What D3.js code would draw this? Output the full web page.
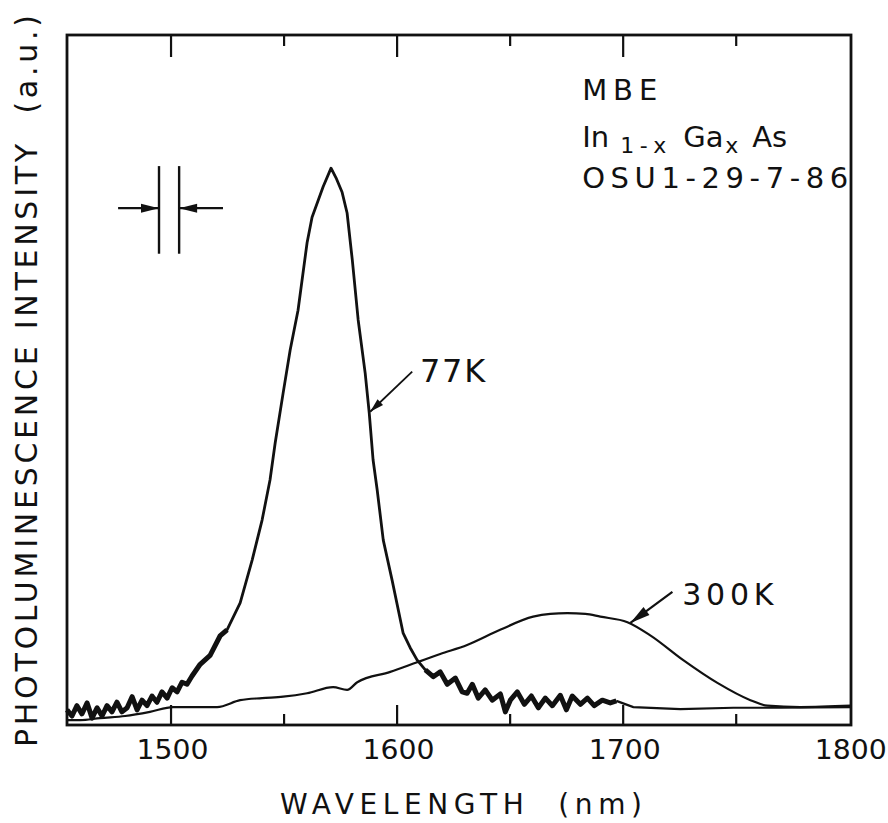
<!DOCTYPE html>
<html>
<head>
<meta charset="utf-8">
<script src="https://cdn.jsdelivr.net/npm/d3@7"></script>
<style>
  html, body { margin: 0; padding: 0; background: #fff; }
  svg { display: block; }
  text { font-family: "DejaVu Sans", "Liberation Sans", sans-serif; fill: #111; white-space: pre; }
</style>
</head>
<body>
<svg id="chart" width="888" height="823"></svg>
<script>
// ---------------- data ----------------
// 77 K spectrum (wavelength nm, intensity a.u.)
const wl77 = [1454.2,1456.4,1458.6,1460.8,1463.1,1465.3,1467.5,1469.7,1471.9,1474.1,1476.3,1478.5,1480.8,1483.0,1485.2,1487.4,1489.6,1491.8,1494.0,1496.2,1498.5,1500.7,1502.9,1505.1,1507.3,1509.5,1513.1,1517.5,1521.9,1525.0,1530.8,1536.1,1540.5,1544.0,1546.3,1549.8,1552.9,1556.4,1560.4,1562.6,1567.5,1571.0,1573.2,1575.9,1578.1,1580.4,1583.0,1586.1,1587.9,1589.6,1591.4,1594.1,1598.0,1602.9,1606.0,1609.1,1612.7,1616.2,1619.3,1622.4,1626.0,1629.0,1631.2,1633.5,1636.1,1639.2,1642.3,1645.9,1648.1,1650.3,1653.4,1656.5,1659.6,1662.7,1665.8,1668.9,1672.4,1675.1,1677.7,1681.3,1684.4,1687.4,1691.0,1694.5,1697.2,1704.7,1725.5,1749.0,1769.8,1801.0];
const int77 = [2.2,1.3,2.8,1.6,3.2,1.0,2.5,1.3,2.8,1.9,3.3,1.9,2.5,4.1,2.2,3.6,2.8,4.2,3.3,4.8,3.9,5.4,4.8,6.2,5.9,7.1,8.8,10.1,12.9,13.8,17.7,23.9,29.7,35.5,40.9,48.1,54.3,60.1,69.9,73.6,78.0,80.7,79.3,77.2,74.2,67.4,58.7,51.0,45.2,38.4,34.1,26.8,21.0,13.3,11.2,9.4,8.0,7.0,7.7,5.9,6.8,4.8,4.6,5.9,3.9,5.1,3.6,4.5,1.9,3.6,4.8,3.0,4.2,2.5,3.9,2.8,4.3,2.2,4.2,3.0,3.9,2.8,3.6,3.2,3.5,2.6,2.3,2.5,2.5,2.6];
// 300 K spectrum
const wl300 = [1454.2,1460.0,1468.8,1479.9,1490.9,1501.1,1510.9,1520.6,1530.8,1540.5,1549.8,1560.4,1571.9,1578.1,1582.6,1597.2,1609.1,1619.3,1631.2,1645.8,1660.4,1668.0,1675.5,1683.5,1690.1,1702.1,1712.2,1726.8,1741.9,1756.5,1764.0,1778.6,1801.0];
const int300 = [0.7,0.7,1.0,1.3,1.9,2.6,2.6,2.6,3.6,3.9,4.1,4.6,5.5,5.1,6.2,7.7,9.1,10.3,11.6,13.8,15.7,16.1,16.2,16.1,15.7,14.9,13.0,9.4,6.1,3.6,2.8,2.6,2.8];
// axis ticks
const majorTicks = [1500, 1600, 1700, 1800];
const minorTicks = [1550, 1650, 1750];
const tickLabels = ["1500", "1600", "1700", "1800"];

// ---------------- layout ----------------
const svg = d3.select("#chart");
const L = 67, R = 851, T = 35, B = 725;
const x = d3.scaleLinear().domain([1454.2, 1801]).range([L, R]);
const y = d3.scaleLinear().domain([0, 100]).range([B, T]);

const smooth = d3.line().x(d => x(d[0])).y(d => y(d[1])).curve(d3.curveMonotoneX);
const line = d3.line().x(d => x(d[0])).y(d => y(d[1])).curve(d3.curveLinear);
const d77 = wl77.map((w, i) => [w, int77[i]]);
const d300 = wl300.map((w, i) => [w, int300[i]]);

// 300K curve
svg.append("path").datum(d300).attr("d", smooth)
  .attr("fill", "none").attr("stroke", "#111").attr("stroke-width", 2.2)
  .attr("stroke-linejoin", "round");

// 77K curve (thin tail beyond measured region, thicker main trace)
svg.append("path").datum(d77.filter(d => d[0] >= 1697)).attr("d", line)
  .attr("fill", "none").attr("stroke", "#111").attr("stroke-width", 2.2);
svg.append("path").datum(d77.filter(d => d[0] <= 1697.2)).attr("d", line)
  .attr("fill", "none").attr("stroke", "#111").attr("stroke-width", 2.8)
  .attr("stroke-linejoin", "round");
// dense noise regions drawn heavier
svg.append("path").datum(d77.filter(d => d[0] <= 1530)).attr("d", line)
  .attr("fill", "none").attr("stroke", "#111").attr("stroke-width", 5)
  .attr("stroke-linejoin", "round");
svg.append("path").datum(d77.filter(d => d[0] >= 1612 && d[0] <= 1697.2)).attr("d", line)
  .attr("fill", "none").attr("stroke", "#111").attr("stroke-width", 5)
  .attr("stroke-linejoin", "round");

// frame
svg.append("rect").attr("x", L).attr("y", T).attr("width", R - L).attr("height", B - T)
  .attr("fill", "none").attr("stroke", "#111").attr("stroke-width", 2.8);

// ticks (bottom and top, inward)
const axB = d3.axisBottom(x).tickValues(majorTicks.filter(t => t < 1800)).tickSize(-20).tickFormat("");
const axBm = d3.axisBottom(x).tickValues(minorTicks).tickSize(-11).tickFormat("");
const axT = d3.axisTop(x).tickValues(majorTicks.filter(t => t < 1800)).tickSize(-22).tickFormat("");
const axTm = d3.axisTop(x).tickValues(minorTicks).tickSize(-11).tickFormat("");
[[axB, B], [axBm, B], [axT, T], [axTm, T]].forEach(([ax, yy]) => {
  const g = svg.append("g").attr("transform", `translate(0,${yy})`).call(ax);
  g.select(".domain").remove();
  g.selectAll("line").attr("stroke", "#111").attr("stroke-width", 2.2);
});

// tick labels
svg.append("g").selectAll("text").data(majorTicks).join("text")
  .attr("x", d => x(d) + 2).attr("y", 759)
  .attr("text-anchor", "middle").attr("font-size", 26)
  .attr("textLength", 72).attr("lengthAdjust", "spacingAndGlyphs")
  .text((d, i) => tickLabels[i]);

// axis titles
svg.append("text").attr("x", 280).attr("y", 814).attr("font-size", 28)
  .attr("textLength", 362).attr("lengthAdjust", "spacing")
  .text("WAVELENGTH  (nm)");
svg.append("text").attr("transform", "translate(37,747) rotate(-90)")
  .attr("x", 0).attr("y", 0).attr("font-size", 30)
  .attr("textLength", 732).attr("lengthAdjust", "spacing")
  .text("PHOTOLUMINESCENCE INTENSITY  (a.u.)");

// sample annotation (top-right)
const ax0 = x(1682.1);
svg.append("text").attr("x", ax0).attr("y", y(90.6)).attr("font-size", 29)
  .attr("textLength", 75).attr("lengthAdjust", "spacing").text("MBE");
const row2 = svg.append("text").attr("y", y(83.8)).attr("font-size", 29);
row2.append("tspan").attr("x", ax0).text("In");
row2.append("tspan").attr("x", ax0 + 38).attr("dy", 6).attr("font-size", 22).attr("textLength", 46).attr("lengthAdjust", "spacing").text("1-x");
row2.append("tspan").attr("x", ax0 + 101).attr("dy", -6).text("Ga");
row2.append("tspan").attr("x", ax0 + 143).attr("dy", 6).attr("font-size", 22).text("x");
row2.append("tspan").attr("x", ax0 + 170).attr("dy", -6).text("As");
svg.append("text").attr("x", ax0).attr("y", y(77.8)).attr("font-size", 29)
  .attr("textLength", 266).attr("lengthAdjust", "spacing").text("OSU1-29-7-86");

// arrow helper
function arrow(x1, y1, x2, y2, len, wid, sw) {
  svg.append("line").attr("x1", x1).attr("y1", y1).attr("x2", x2).attr("y2", y2)
    .attr("stroke", "#111").attr("stroke-width", sw);
  const a = Math.atan2(y2 - y1, x2 - x1);
  const bx = x2 - len * Math.cos(a), by = y2 - len * Math.sin(a);
  const px = -Math.sin(a) * wid / 2, py = Math.cos(a) * wid / 2;
  svg.append("path")
    .attr("d", `M${x2},${y2}L${bx + px},${by + py}L${bx - px},${by - py}Z`)
    .attr("fill", "#111");
}

// curve labels
svg.append("text").attr("x", x(1610.4)).attr("y", y(49.7)).attr("font-size", 32)
  .attr("textLength", 65).attr("lengthAdjust", "spacing").text("77K");
arrow(x(1606.9), y(51.2), x(1588.3), y(45.4), 14, 8, 1.8);
svg.append("text").attr("x", x(1726.4)).attr("y", y(17.4)).attr("font-size", 30)
  .attr("textLength", 91).attr("lengthAdjust", "spacing").text("300K");
arrow(x(1722.0), y(19.3), x(1703.4), y(14.8), 20, 10, 2.2);

// spectral resolution marker
[1494.9, 1503.8].forEach(w => {
  svg.append("line").attr("x1", x(w)).attr("x2", x(w)).attr("y1", y(81.0)).attr("y2", y(68.3))
    .attr("stroke", "#111").attr("stroke-width", 2.4);
});
arrow(x(1476.8), y(74.9), x(1494.9), y(74.9), 18, 9, 2.2);
arrow(x(1523.2), y(74.9), x(1503.8), y(74.9), 18, 9, 2.2);
</script>
</body>
</html>
